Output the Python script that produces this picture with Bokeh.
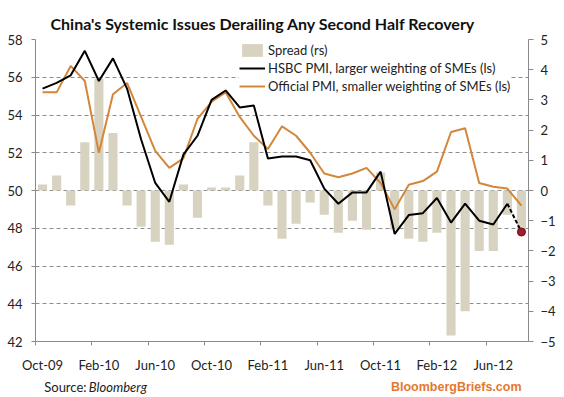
from bokeh.plotting import figure
from bokeh.layouts import column
from bokeh.models import (Range1d, LinearAxis, FixedTicker, Legend, LegendItem,
                          Label, Grid)
from bokeh.embed import file_html
from bokeh.resources import INLINE

months = ["Oct-09", "Nov-09", "Dec-09", "Jan-10", "Feb-10", "Mar-10", "Apr-10",
          "May-10", "Jun-10", "Jul-10", "Aug-10", "Sep-10", "Oct-10", "Nov-10",
          "Dec-10", "Jan-11", "Feb-11", "Mar-11", "Apr-11", "May-11", "Jun-11",
          "Jul-11", "Aug-11", "Sep-11", "Oct-11", "Nov-11", "Dec-11", "Jan-12",
          "Feb-12", "Mar-12", "Apr-12", "May-12", "Jun-12", "Jul-12", "Aug-12"]
hsbc = [55.4, 55.7, 56.1, 57.4, 55.8, 57.0, 55.4, 52.7, 50.4, 49.4, 51.9, 52.9,
        54.8, 55.3, 54.4, 54.5, 51.7, 51.8, 51.8, 51.6, 50.1, 49.3, 49.9, 49.9,
        51.0, 47.7, 48.7, 48.8, 49.6, 48.3, 49.3, 48.4, 48.2, 49.3, 47.8]
official = [55.2, 55.2, 56.6, 55.8, 52.0, 55.1, 55.7, 53.9, 52.1, 51.2, 51.7, 53.8,
            54.7, 55.2, 53.9, 52.9, 52.2, 53.4, 52.9, 52.0, 50.9, 50.7, 50.9, 51.2,
            50.4, 49.0, 50.3, 50.5, 51.0, 53.1, 53.3, 50.4, 50.2, 50.1, 49.2]
spread = [0.2, 0.5, -0.5, 1.6, 3.7, 1.9, -0.5, -1.2, -1.7, -1.8, 0.2, -0.9,
          0.1, 0.1, 0.5, 1.6, -0.5, -1.6, -1.1, -0.4, -0.8, -1.4, -1.0, -1.3,
          0.6, -1.3, -1.6, -1.7, -1.4, -4.8, -4.0, -2.0, -2.0, -0.8, -1.4]
left_ticks = [42, 44, 46, 48, 50, 52, 54, 56, 58]
right_ticks = [-5, -4, -3, -2, -1, 0, 1, 2, 3, 4, 5]
tick_every = 4

FONT = "Lato"
n = len(months)
xc = [i + 0.5 for i in range(n)]

p = figure(width=564, height=375, output_backend="svg", toolbar_location=None,
           x_range=Range1d(0, n), y_range=Range1d(42, 58),
           x_axis_type=None, y_axis_type=None,
           min_border_left=35, min_border_right=36, min_border_top=39,
           min_border_bottom=29)
p.extra_y_ranges = {"rs": Range1d(-5, 5)}
p.outline_line_color = None
p.background_fill_color = "white"
p.border_fill_color = "white"

# title
p.title.text = "China's Systemic Issues Derailing Any Second Half Recovery"
p.title.text_font = FONT
p.title.text_font_style = "bold"
p.title.text_font_size = "16px"
p.title.text_color = "#111111"
p.title.align = "left"
p.title.offset = 15
p.title.standoff = 13

axis_col = "#8a8a8a"
lab_col = "#222222"

# left axis
la = LinearAxis(ticker=FixedTicker(ticks=left_ticks, minor_ticks=[]))
la.axis_line_color = axis_col
la.major_tick_line_color = axis_col
la.major_tick_out = 4
la.major_tick_in = 0
la.major_label_standoff = 9
la.major_label_text_font = FONT
la.major_label_text_font_size = "13px"
la.major_label_text_color = lab_col
p.add_layout(la, "left")

# right axis
ra = LinearAxis(y_range_name="rs", ticker=FixedTicker(ticks=right_ticks, minor_ticks=[]))
ra.axis_line_color = axis_col
ra.major_tick_line_color = axis_col
ra.major_tick_out = 5
ra.major_tick_in = 0
ra.major_label_standoff = 7
ra.major_label_text_font = FONT
ra.major_label_text_font_size = "13px"
ra.major_label_text_color = lab_col
p.add_layout(ra, "right")

# bottom axis: labels at category centres, tick marks at boundaries
label_pos = [xc[i] for i in range(0, n, tick_every)]
bound_pos = [float(i) for i in range(0, n, tick_every)]
ba = LinearAxis(ticker=FixedTicker(ticks=label_pos, minor_ticks=bound_pos))
ba.major_label_overrides = {xc[i]: months[i] for i in range(0, n, tick_every)}
ba.axis_line_color = axis_col
ba.major_tick_line_color = None
ba.major_tick_out = 0
ba.major_tick_in = 0
ba.minor_tick_line_color = axis_col
ba.minor_tick_out = 4
ba.minor_tick_in = 0
ba.major_label_standoff = 11
ba.major_label_text_font = FONT
ba.major_label_text_font_size = "13px"
ba.major_label_text_color = lab_col
p.add_layout(ba, "below")

# grid
g = Grid(dimension=1, ticker=FixedTicker(ticks=left_ticks[1:]))
g.grid_line_color = "#8c8c8c"
g.grid_line_dash = "4 3"
g.grid_line_width = 1
p.add_layout(g)

bars = p.vbar(x=xc, top=spread, bottom=0, width=0.65, y_range_name="rs",
              fill_color="#D8D3C0", line_color=None)
off = p.line(xc, official, line_color="#D2873A", line_width=2)
hs = p.line(xc[:n - 1], hsbc[:n - 1], line_color="#000000", line_width=2)
p.line(xc[n - 2:], hsbc[n - 2:], line_color="#000000", line_width=2, line_dash="4 2")
p.scatter([xc[-1]], [hsbc[-1]], size=8, fill_color="#A11A2E", line_color="#6b0f1c")

legend = Legend(items=[
    LegendItem(label="Spread (rs)", renderers=[bars]),
    LegendItem(label="HSBC PMI, larger weighting of SMEs (ls)", renderers=[hs]),
    LegendItem(label="Official PMI, smaller weighting of SMEs (ls)", renderers=[off]),
], location=(204, 247))
legend.padding = 1
legend.margin = 0
legend.spacing = 2
legend.label_height = 16
legend.glyph_height = 16
legend.glyph_width = 26
legend.label_standoff = 3
legend.border_line_color = None
legend.background_fill_color = "white"
legend.background_fill_alpha = 1
legend.label_text_font = FONT
legend.label_text_font_size = "13px"
legend.label_text_color = lab_col
p.add_layout(legend)

# footer strip with source and brand
f = figure(width=564, height=22, output_backend="svg", toolbar_location=None,
           x_range=Range1d(0, 564), y_range=Range1d(0, 22),
           x_axis_type=None, y_axis_type=None,
           min_border_left=0, min_border_right=0, min_border_top=0,
           min_border_bottom=0)
f.outline_line_color = None
f.xgrid.visible = False
f.ygrid.visible = False
f.add_layout(Label(x=10, y=11, text="Source:", text_font=FONT,
                   text_font_size="13px", text_color=lab_col,
                   text_baseline="middle"))
f.add_layout(Label(x=61, y=11, text="Bloomberg", text_font=FONT,
                   text_font_size="13px", text_font_style="italic",
                   text_color=lab_col, text_baseline="middle"))
f.add_layout(Label(x=556, y=11, text="BloombergBriefs.com",
                   text_font="Liberation Sans", text_font_size="12.5px",
                   text_font_style="bold", text_color="#E5782F",
                   text_align="right", text_baseline="middle"))

layout = column(p, f, spacing=0)
open("out.html", "w").write(file_html(layout, INLINE))
